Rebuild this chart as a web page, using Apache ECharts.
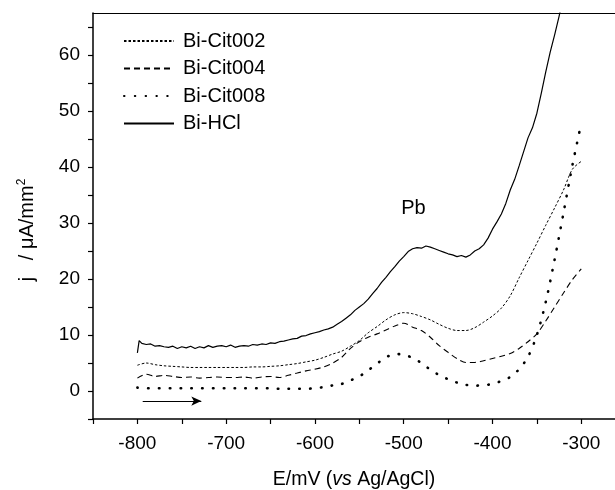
<!DOCTYPE html>
<html>
<head>
<meta charset="utf-8">
<script src="https://cdn.jsdelivr.net/npm/echarts@6/dist/echarts.min.js"></script>
<style>
html,body{margin:0;padding:0;background:#fff;}
#c{width:615px;height:490px;}
</style>
</head>
<body>
<div id="c"></div>
<script>
// ---- data ----
const seriesNames = ['Bi-Cit002', 'Bi-Cit004', 'Bi-Cit008', 'Bi-HCl'];

// potential grid for the citrate curves (mV)
const citE = [
  -800, -790, -780, -770, -760, -750, -740, -730, -720, -710,
  -700, -690, -680, -670, -660, -650, -640, -630, -620, -610,
  -600, -590, -580, -570, -560, -550, -540, -530, -520, -510,
  -500, -490, -480, -470, -460, -450, -440, -430, -420, -410,
  -400, -390, -380, -370, -360, -350, -340, -330, -320, -310,
  -300
];
const cit002 = [
  4.6, 5.0, 4.7, 4.5, 4.4, 4.3, 4.2, 4.2, 4.2, 4.2,
  4.2, 4.2, 4.2, 4.3, 4.3, 4.4, 4.5, 4.7, 4.9, 5.2,
  5.5, 6.0, 6.6, 7.1, 8.0, 9.0, 10.4, 11.5, 12.7, 13.6,
  14.0, 13.8, 13.3, 12.7, 11.9, 11.2, 10.8, 10.8, 11.3, 12.3,
  13.4, 14.8, 17.0, 20.2, 23.3, 26.4, 29.6, 32.7, 35.9, 39.6,
  41.0
];
const cit004 = [
  2.3, 3.0, 2.6, 2.8, 2.6, 2.4, 2.5, 2.3, 2.4, 2.5,
  2.4, 2.4, 2.5, 2.3, 2.5, 2.6, 2.4, 2.8, 3.2, 3.6,
  3.9, 4.3, 5.0, 6.0, 7.6, 8.8, 9.6, 10.2, 10.9, 11.6,
  12.1, 11.4, 10.8, 9.6, 8.1, 6.9, 5.8, 5.1, 5.1, 5.4,
  5.8, 6.2, 6.7, 7.6, 8.8, 10.2, 12.5, 15.0, 17.5, 19.9,
  21.8
];
const cit008 = [
  0.6, 0.5, 0.5, 0.5, 0.5, 0.5, 0.5, 0.5, 0.5, 0.5,
  0.5, 0.5, 0.5, 0.5, 0.5, 0.5, 0.4, 0.4, 0.4, 0.4,
  0.5, 0.7, 1.0, 1.25, 1.9, 2.6, 3.7, 4.9, 6.0, 6.6,
  6.5, 5.9, 5.0, 3.8, 2.85, 2.1, 1.5, 1.1, 0.95, 1.05,
  1.25, 1.8, 2.5, 3.9, 6.1, 10.0, 15.9, 23.5, 31.8, 40.3,
  47.8
];

// potential grid for the HCl curve (mV)
const hclE = [
  -800, -798, -795, -790, -785, -780, -775, -770, -765, -760,
  -755, -750, -745, -740, -735, -730, -725, -720, -715, -710,
  -705, -700, -695, -690, -685, -680, -675, -670, -665, -660,
  -655, -650, -645, -640, -635, -630, -625, -620, -615, -610,
  -605, -600, -595, -590, -585, -580, -575, -570, -565, -560,
  -555, -550, -545, -540, -535, -530, -525, -520, -515, -510,
  -505, -500, -495, -490, -485, -480, -475, -470, -465, -460,
  -455, -450, -445, -440, -435, -430, -425, -420, -415, -410,
  -405, -400, -395, -390, -385, -380, -375, -370, -365, -360,
  -355, -350, -345, -340, -335, -330, -325, -320
];
const hclJ = [
  6.8, 9.0, 8.5, 8.3, 8.4, 8.0, 8.1, 7.9, 7.8, 8.0,
  7.6, 7.9, 7.7, 8.0, 7.6, 7.9, 7.7, 8.1, 7.8, 8.0,
  8.1, 7.9, 8.2, 7.8, 8.0, 8.1, 8.0, 8.3, 8.2, 8.4,
  8.3, 8.6, 8.5, 8.8, 8.9, 9.1, 9.3, 9.4, 9.8, 9.9,
  10.2, 10.4, 10.6, 10.9, 11.1, 11.4, 11.9, 12.4, 13.0, 13.6,
  14.4, 15.0, 15.6, 16.4, 17.4, 18.3, 19.4, 20.3, 21.3, 22.2,
  23.2, 24.0, 24.9, 25.4, 25.6, 25.5, 25.9, 25.7, 25.4, 25.1,
  24.8, 24.5, 24.3, 24.0, 24.2, 23.9, 24.3, 25.0, 25.4, 26.1,
  27.3, 28.9, 30.2, 31.6, 33.5, 35.9, 37.8, 40.2, 42.7, 45.2,
  47.0, 49.6, 53.2, 57.0, 60.5, 63.6, 66.9, 70.5
];

// axis ticks and labels
const xTickMarks = [-850, -800, -750, -700, -650, -600, -550, -500, -450, -400, -350, -300];
const xTickLabels = [-800, -700, -600, -500, -400, -300];
const yTickMarks = [-5, 0, 5, 10, 15, 20, 25, 30, 35, 40, 45, 50, 55, 60, 65];
const yTickLabels = [0, 10, 20, 30, 40, 50, 60];

// annotations
const peakLabel = 'Pb';
const peakLabelAt = [-489, 32.6];
const scanArrow = [[-794, -1.8], [-728, -1.8]];

// ---- chart ----
const FONT = '"Liberation Sans", Arial, sans-serif';
const pairs = (xs, ys) => xs.map((x, i) => [x, ys[i]]);

const chart = echarts.init(document.getElementById('c'), null, {renderer: 'canvas'});

const lineBase = {
  type: 'line', symbol: 'none', showSymbol: false, silent: true,
  animation: false, clip: true, z: 3
};

chart.setOption({
  animation: false,
  backgroundColor: '#fff',
  textStyle: {fontFamily: FONT, color: '#000'},
  grid: {left: 93, top: 13, right: 0, bottom: 71, containLabel: false, outerBoundsMode: 'none'},
  legend: {
    orient: 'vertical', left: 118, top: 26,
    itemWidth: 50, itemHeight: 14, itemGap: 7.5,
    selectedMode: false,
    data: seriesNames,
    itemStyle: {opacity: 0, color: 'rgba(0,0,0,0)', borderColor: 'rgba(0,0,0,0)', borderWidth: 0},
    textStyle: {fontFamily: FONT, fontSize: 20, color: '#000', lineHeight: 20, padding: [0, 0, 0, 4]}
  },
  xAxis: [{
    type: 'value', min: -850, max: -262, interval: 50,
    position: 'bottom',
    name: '{n|E/mV (}{i|vs}{n| Ag/AgCl)}',
    nameLocation: 'middle', nameGap: 51,
    nameTextStyle: {
      rich: {
        n: {fontFamily: FONT, fontSize: 19.5, color: '#000'},
        i: {fontFamily: FONT, fontSize: 19.5, color: '#000', fontStyle: 'italic'}
      }
    },
    axisLine: {show: true, onZero: false, lineStyle: {color: '#000', width: 1.5}},
    axisTick: {show: true, inside: false, length: 5, customValues: xTickMarks, lineStyle: {color: '#000', width: 1.2}},
    axisLabel: {show: true, margin: 15, customValues: xTickLabels, fontFamily: FONT, fontSize: 19, color: '#000'},
    splitLine: {show: false}
  }, {
    type: 'value', min: -850, max: -262, position: 'top',
    axisLine: {show: true, onZero: false, lineStyle: {color: '#000', width: 1.2}},
    axisTick: {show: false}, axisLabel: {show: false}, splitLine: {show: false}
  }],
  yAxis: {
    type: 'value', min: -5, max: 67.5, interval: 5,
    name: '{a|j   / μA/mm}{s|2}',
    nameLocation: 'middle', nameGap: 55, nameRotate: 90,
    nameTextStyle: {
      padding: [0, 28, 0, 0],
      rich: {
        a: {fontFamily: FONT, fontSize: 20, color: '#000'},
        s: {fontFamily: FONT, fontSize: 12, color: '#000', padding: [0, 0, 10, 0]}
      }
    },
    axisLine: {show: true, onZero: false, lineStyle: {color: '#000', width: 1.5}},
    axisTick: {show: true, inside: false, length: 5, customValues: yTickMarks, lineStyle: {color: '#000', width: 1.2}},
    axisLabel: {show: true, margin: 13, customValues: yTickLabels, fontFamily: FONT, fontSize: 19, color: '#000'},
    splitLine: {show: false}
  },
  series: [
    Object.assign({}, lineBase, {
      name: seriesNames[0], data: pairs(citE, cit002), smooth: 0.3,
      itemStyle: {color: '#000'},
      lineStyle: {color: '#000', width: 1, type: [2.5, 2]}
    }),
    Object.assign({}, lineBase, {
      name: seriesNames[1], data: pairs(citE, cit004), smooth: 0.3,
      itemStyle: {color: '#000'},
      lineStyle: {color: '#000', width: 1.1, type: [6, 4]}
    }),
    Object.assign({}, lineBase, {
      name: seriesNames[2], data: pairs(citE, cit008), smooth: 0.3,
      itemStyle: {color: '#000'},
      lineStyle: {color: '#000', width: 2.6, type: [0.5, 10.3], cap: 'round'}
    }),
    Object.assign({}, lineBase, {
      name: seriesNames[3], data: pairs(hclE, hclJ),
      itemStyle: {color: '#000'},
      lineStyle: {color: '#000', width: 1.2, type: 'solid'},
      markPoint: {
        silent: true, symbol: 'circle', symbolSize: 0,
        label: {show: true, position: 'inside', formatter: peakLabel, fontFamily: FONT, fontSize: 20, color: '#000'},
        data: [{coord: peakLabelAt}]
      },
      markLine: {
        silent: true, animation: false,
        symbol: ['none', 'arrow'], symbolSize: [7, 10],
        label: {show: false},
        lineStyle: {color: '#000', width: 1.2, type: 'solid'},
        data: [[{coord: scanArrow[0]}, {coord: scanArrow[1]}]]
      }
    })
  ]
});
</script>
</body>
</html>
